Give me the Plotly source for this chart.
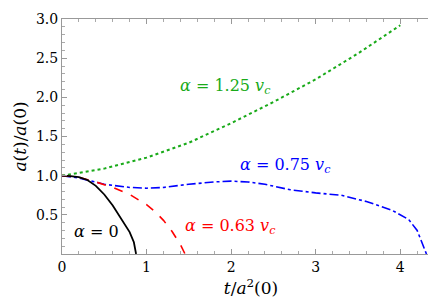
import plotly.graph_objects as go

# data
t_a0 = [0, 0.1, 0.2, 0.3, 0.4, 0.5, 0.6, 0.7, 0.8, 0.85, 0.876]
a_a0 = [1, 0.995, 0.98, 0.945, 0.87, 0.76, 0.62, 0.45, 0.28, 0.15, 0]

t_a063 = [0, 0.2, 0.4, 0.6, 0.8, 1.0, 1.1, 1.2, 1.3, 1.4, 1.455]
a_a063 = [1, 0.98, 0.92, 0.85, 0.76, 0.63, 0.54, 0.43, 0.29, 0.12, 0]

t_a075 = [0, 0.2, 0.5, 0.8, 1.0, 1.2, 1.5, 1.8, 2.0, 2.2, 2.4, 2.7, 3.0, 3.3, 3.6, 3.9, 4.1, 4.2, 4.31]
a_a075 = [1, 0.97, 0.89, 0.85, 0.84, 0.85, 0.89, 0.92, 0.93, 0.92, 0.89, 0.82, 0.78, 0.75, 0.67, 0.56, 0.44, 0.3, 0]

t_a125 = [0, 0.5, 1.0, 1.5, 2.0, 2.5, 3.0, 3.5, 4.0]
a_a125 = [1, 1.09, 1.23, 1.42, 1.67, 1.94, 2.23, 2.56, 2.92]

x_ticks = [0, 1, 2, 3, 4]
y_ticks = [0.5, 1.0, 1.5, 2.0, 2.5, 3.0]
y_ticktext = ["0.5", "1.0", "1.5", "2.0", "2.5", "3.0"]

GREEN = "rgb(25,170,25)"
FONT = "DejaVu Serif"

fig = go.Figure()
fig.add_trace(go.Scatter(x=t_a125, y=a_a125, mode="lines", line=dict(color=GREEN, width=2, dash="dot")))
fig.add_trace(go.Scatter(x=t_a075, y=a_a075, mode="lines", line=dict(color="blue", width=1.6, dash="dashdot")))
fig.add_trace(go.Scatter(x=t_a063, y=a_a063, mode="lines", line=dict(color="red", width=1.6, dash="dash")))
fig.add_trace(go.Scatter(x=t_a0, y=a_a0, mode="lines", line=dict(color="black", width=1.8)))

labels = [
    (1.93, 2.14, "<i>α</i> = 1.25 <i>v</i><sub><i>c</i></sub>", GREEN),
    (2.64, 1.13, "<i>α</i> = 0.75 <i>v</i><sub><i>c</i></sub>", "blue"),
    (1.99, 0.35, "<i>α</i> = 0.63 <i>v</i><sub><i>c</i></sub>", "red"),
    (0.41, 0.29, "<i>α</i> = 0", "black"),
]
for x, y, txt, c in labels:
    fig.add_annotation(x=x, y=y, text=txt, showarrow=False, font=dict(family=FONT, size=16, color=c))

fig.update_xaxes(range=[0, 4.47], tickvals=x_ticks, automargin=False,
                 showgrid=False, zeroline=False, showline=True, linecolor="#999", linewidth=1,
                 mirror="ticks", ticks="inside", ticklen=5, tickcolor="#999",
                 tickfont=dict(family=FONT, size=14, color="black"),
                 minor=dict(dtick=0.2, ticks="inside", ticklen=3, tickcolor="#aaa"),
                 title=dict(text="<i>t</i>/<i>a</i><sup>2</sup>(0)", font=dict(family=FONT, size=17, color="black"), standoff=8))
fig.update_yaxes(range=[0, 3], tickvals=y_ticks, ticktext=y_ticktext, automargin=False,
                 showgrid=False, zeroline=False, showline=True, linecolor="#999", linewidth=1,
                 mirror="ticks", ticks="inside", ticklen=5, tickcolor="#999",
                 tickfont=dict(family=FONT, size=14, color="black"),
                 minor=dict(dtick=0.1, ticks="inside", ticklen=3, tickcolor="#aaa"),
                 title=dict(text="<i>a</i>(<i>t</i>)/<i>a</i>(0)", font=dict(family=FONT, size=17, color="black"), standoff=4))
fig.update_layout(width=436, height=300, margin=dict(l=54, r=4, t=11, b=54, autoexpand=False),
                  font=dict(family=FONT, color="black"),
                  plot_bgcolor="white", paper_bgcolor="white", showlegend=False)
fig.write_html("out.html")
